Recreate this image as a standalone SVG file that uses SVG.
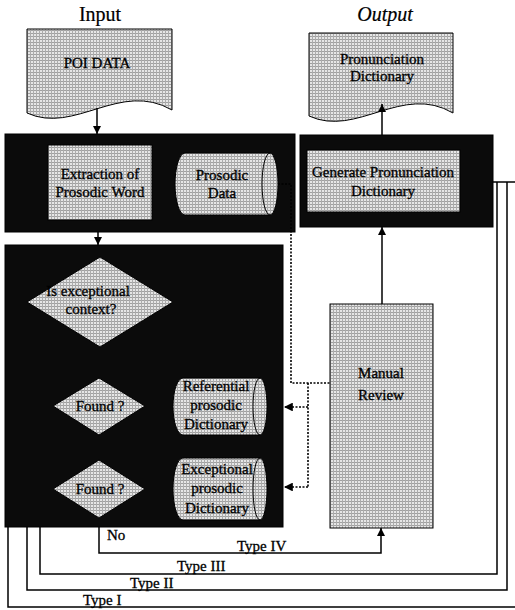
<svg xmlns="http://www.w3.org/2000/svg" width="515" height="610" viewBox="0 0 515 610">
<defs>
<pattern id="stip" width="3" height="3" patternUnits="userSpaceOnUse">
<rect width="3" height="3" fill="#e6e6e6"/>
<rect width="3" height="1" fill="#a0a0a0"/>
<rect width="1" height="3" fill="#acacac"/>
</pattern>
<marker id="arr" viewBox="0 0 10 10" refX="10" refY="5" markerWidth="5.5" markerHeight="5.5" orient="auto" markerUnits="strokeWidth">
<path d="M0,0 L10,5 L0,10 Z" fill="#000"/>
</marker>
</defs>
<style>
text{font-family:"Liberation Serif","Times New Roman",serif;fill:#000;stroke:#000;stroke-width:0.3;text-anchor:middle;font-size:15px}
.title{font-size:20px;stroke-width:0.2}
.lt{fill:url(#stip);stroke:#000;stroke-width:1}
.blk{fill:#0b0b0b;stroke:#000;stroke-width:1}
.ln{fill:none;stroke:#000;stroke-width:1.5}
.dash{fill:none;stroke:#000;stroke-width:1.6;stroke-dasharray:2 1.5}
.lbl{text-anchor:start;font-size:15px}
</style>

<text class="title" x="100" y="21">Input</text>
<text class="title" x="385" y="21" font-style="italic">Output</text>

<g id="poi">
<path class="lt" d="M27,29 H172 V110 C120,80 75,135 27,113 Z"/>
<text x="97" y="68">POI DATA</text>
</g>

<g id="pron-dict">
<path class="lt" d="M309,33 H453 V113 C402,83 357,138 309,116 Z"/>
<text x="382" y="64">Pronunciation</text>
<text x="382" y="81">Dictionary</text>
</g>

<g id="stage1">
<rect class="blk" x="5" y="134" width="290" height="98"/>
</g>
<g id="extraction">
<rect class="lt" x="48" y="145" width="104" height="75"/>
<text x="100" y="179">Extraction of</text>
<text x="100" y="197">Prosodic Word</text>
</g>
<g id="prosodic-data">
<path class="lt" d="M185,153 H270 A8,31 0 0 1 270,215 H185 A10,31 0 0 1 185,153 Z"/>
<path d="M270,153 A8,31 0 0 0 270,215" fill="none" stroke="#000" stroke-width="1"/>
<text x="222" y="180">Prosodic</text>
<text x="222" y="198">Data</text>
</g>

<g id="stage2">
<rect class="blk" x="300" y="135" width="193" height="92"/>
</g>
<g id="generate">
<rect class="lt" x="307" y="150" width="153" height="62"/>
<text x="383" y="177">Generate Pronunciation</text>
<text x="383" y="196">Dictionary</text>
</g>

<g id="stage3">
<rect class="blk" x="5" y="245" width="278" height="282"/>
</g>
<g id="exceptional-context">
<path class="lt" d="M100,257 L173,302 L100,347 L27,302 Z"/>
<text x="88" y="296" font-size="16">Is exceptional</text>
<text x="91" y="314" font-size="16">context?</text>
</g>
<g id="found1">
<path class="lt" d="M99,378 L145,406 L99,435 L53,406 Z"/>
<text x="100" y="411" font-size="14">Found ?</text>
</g>
<g id="found2">
<path class="lt" d="M99,460 L145,489 L99,518 L53,489 Z"/>
<text x="100" y="494" font-size="14">Found ?</text>
</g>
<g id="referential">
<path class="lt" d="M183,378 H260 A7,28.5 0 0 1 260,435 H183 A10,28.5 0 0 1 183,378 Z"/>
<path d="M260,378 A7,28.5 0 0 0 260,435" fill="none" stroke="#000" stroke-width="1"/>
<text x="216" y="391" font-size="14">Referential</text>
<text x="216" y="410" font-size="14">prosodic</text>
<text x="216" y="429" font-size="14">Dictionary</text>
</g>
<g id="exceptional-dict">
<path class="lt" d="M183,458 H260 A7,31 0 0 1 260,520 H183 A10,31 0 0 1 183,458 Z"/>
<path d="M260,458 A7,31 0 0 0 260,520" fill="none" stroke="#000" stroke-width="1"/>
<text x="217" y="474" font-size="14">Exceptional</text>
<text x="217" y="493" font-size="14">prosodic</text>
<text x="217" y="513" font-size="14">Dictionary</text>
</g>

<g id="manual-review">
<rect class="lt" x="330" y="304" width="103" height="224"/>
<text x="381" y="378" font-size="17">Manual</text>
<text x="381" y="400" font-size="17">Review</text>
</g>

<g id="connectors">
<line class="ln" x1="97" y1="108" x2="97" y2="134" marker-end="url(#arr)"/>
<line class="ln" x1="98" y1="232" x2="98" y2="245" marker-end="url(#arr)"/>
<line class="ln" x1="382" y1="135" x2="382" y2="104" marker-end="url(#arr)"/>
<line class="ln" x1="382" y1="304" x2="382" y2="227" marker-end="url(#arr)"/>
<path class="dash" d="M278,184 H291 V383 H330"/>
<path class="dash" d="M308,383 V487"/>
<line class="dash" x1="308" y1="407" x2="284" y2="407" marker-end="url(#arr)"/>
<line class="dash" x1="308" y1="487" x2="284" y2="487" marker-end="url(#arr)"/>
<path class="ln" d="M99,527 V553 H381 V528" marker-end="url(#arr)"/>
<path class="ln" d="M40,527 V574 H497 V182"/>
<path class="ln" d="M27,527 V590 H507 V182"/>
<path class="ln" d="M8,527 V607 H515"/>
<line class="ln" x1="493" y1="182" x2="515" y2="182"/>
<text class="lbl" x="107" y="540">No</text>
<text class="lbl" x="237" y="551" font-size="14">Type IV</text>
<text class="lbl" x="177" y="571" font-size="14">Type III</text>
<text class="lbl" x="130" y="588" font-size="14">Type II</text>
<text class="lbl" x="83" y="605" font-size="14">Type I</text>
</g>
</svg>
